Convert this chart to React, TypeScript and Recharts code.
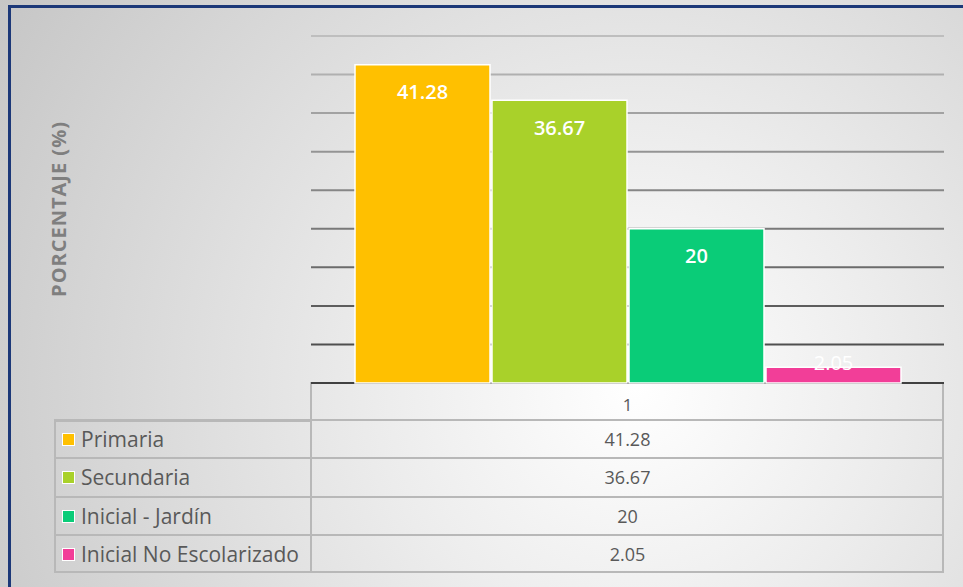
import { BarChart, Bar, XAxis, YAxis, CartesianGrid, LabelList } from "recharts";

const CATEGORIES = ["1"];
const SERIES = ["Primaria", "Secundaria", "Inicial - Jardín", "Inicial No Escolarizado"];
const VALUES = [41.28, 36.67, 20, 2.05];
const COLORS = ["#FFC000", "#A9D12A", "#0ACC78", "#F23E98"];
const Y_TICKS = [0, 5, 10, 15, 20, 25, 30, 35, 40, 45];

const data = CATEGORIES.map((c) => {
  const row: Record<string, string | number> = { cat: c };
  SERIES.forEach((s, i) => (row[s] = VALUES[i]));
  return row;
});

const FONT = "'Open Sans', sans-serif";
const TEXT = "#595959";
const BORDER = "#b8b8b8";

function gridLine(props: any) {
  const t = Math.max(0, Math.min(1, (props.y1 - 36) / (383 - 36)));
  const c = Math.round(190 - t * 125);
  return (
    <line
      key={`g-${props.index}-${props.y1}`}
      x1={props.x1}
      x2={props.x2}
      y1={props.y1}
      y2={props.y1}
      stroke={`rgb(${c},${c},${c})`}
      strokeWidth={2}
    />
  );
}

function barLabel(props: any) {
  const { x, y, width, height, value } = props;
  const small = height < 40;
  const cy = small ? y + height - 21 : y + 27;
  return (
    <text
      x={x + width / 2}
      y={cy}
      textAnchor="middle"
      dominantBaseline="central"
      fill="#fff"
      fontFamily={FONT}
      fontSize={20}
      fontWeight={small ? 400 : 600}
    >
      {value}
    </text>
  );
}

export default function App() {
  const rowTop = 420;
  const rowH = 38.3;
  return (
    <div
      style={{
        position: "absolute",
        left: 0,
        top: 0,
        width: 963,
        height: 587,
        overflow: "hidden",
        background:
          "radial-gradient(circle at 66% 66%, #ffffff 0%, #ececec 35%, #c6c6c6 100%)",
        fontFamily: FONT,
      }}
    >
      <div
        style={{
          position: "absolute",
          left: 8,
          top: 5,
          width: 980,
          height: 620,
          borderTop: "3px solid #1c3878",
          borderLeft: "3px solid #1c3878",
        }}
      />
      <div
        style={{
          position: "absolute",
          left: 58,
          top: 209,
          transform: "translate(-50%, -50%) rotate(-90deg)",
          whiteSpace: "nowrap",
          fontSize: 20,
          fontWeight: 700,
          color: "#7f7f7f",
          letterSpacing: 1,
        }}
      >
        PORCENTAJE (%)
      </div>

      {/* data table */}
      <div
        style={{
          position: "absolute",
          left: 310,
          top: 382,
          width: 634,
          height: 191,
          border: `2px solid ${BORDER}`,
          boxSizing: "border-box",
        }}
      />
      <div
        style={{
          position: "absolute",
          left: 54,
          top: rowTop,
          width: 258,
          height: 153,
          border: `2px solid ${BORDER}`,
          boxSizing: "border-box",
        }}
      />
      {SERIES.map((s, i) => (
        <div key={s}>
          <div
            style={{
              position: "absolute",
              left: 54,
              top: rowTop + i * rowH - 1,
              width: 890,
              height: 2,
              background: BORDER,
            }}
          />
          <div
            style={{
              position: "absolute",
              left: 62,
              top: rowTop + i * rowH + 13,
              width: 11,
              height: 11,
              background: COLORS[i],
              border: "1.5px solid #fff",
            }}
          />
          <div
            style={{
              position: "absolute",
              left: 81,
              top: rowTop + i * rowH,
              height: rowH,
              lineHeight: `${rowH}px`,
              fontSize: 21,
              color: TEXT,
              whiteSpace: "nowrap",
            }}
          >
            {s}
          </div>
          <div
            style={{
              position: "absolute",
              left: 311,
              width: 633,
              top: rowTop + i * rowH,
              height: rowH,
              lineHeight: `${rowH}px`,
              textAlign: "center",
              fontSize: 18,
              color: TEXT,
            }}
          >
            {VALUES[i]}
          </div>
        </div>
      ))}
      <div
        style={{
          position: "absolute",
          left: 310,
          top: 419,
          width: 2,
          height: 154,
          background: BORDER,
        }}
      />

      <div style={{ position: "absolute", left: 0, top: 0 }}>
        <BarChart
          width={963}
          height={587}
          data={data}
          margin={{ top: 36, right: 19, left: 311, bottom: 167 }}
          barCategoryGap={44}
          barGap={2}
        >
          <CartesianGrid vertical={false} horizontal={gridLine} />
          <XAxis
            dataKey="cat"
            height={37}
            axisLine={false}
            tickLine={false}
            tick={{ fill: TEXT, fontSize: 17, fontFamily: FONT }}
            dy={8}
          />
          <YAxis
            width={0}
            domain={[0, 45]}
            ticks={Y_TICKS}
            interval={0}
            tick={{ fontSize: 0 }}
            axisLine={false}
            tickLine={false}
          />
          {SERIES.map((s, i) => (
            <Bar
              key={s}
              dataKey={s}
              fill={COLORS[i]}
              stroke="#ffffff"
              strokeWidth={1.5}
              isAnimationActive={false}
            >
              <LabelList dataKey={s} content={barLabel} />
            </Bar>
          ))}
        </BarChart>
      </div>
    </div>
  );
}
